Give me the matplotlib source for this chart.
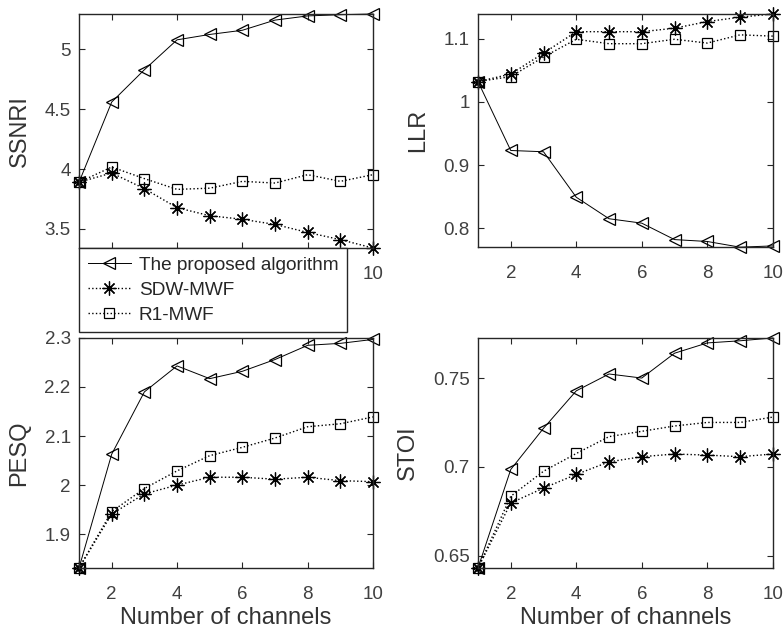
import matplotlib
matplotlib.use('Agg')
import matplotlib.pyplot as plt
from matplotlib.ticker import FormatStrFormatter

plt.rcParams['font.family'] = ['Liberation Sans', 'DejaVu Sans']

channels = [1, 2, 3, 4, 5, 6, 7, 8, 9, 10]

# SSNRI
ssnri_prop = [3.89, 4.56, 4.83, 5.08, 5.125, 5.16, 5.245, 5.28, 5.29, 5.296]
ssnri_sdw = [3.89, 3.967, 3.836, 3.677, 3.61, 3.58, 3.537, 3.47, 3.41, 3.34]
ssnri_r1 = [3.89, 4.017, 3.92, 3.83, 3.84, 3.897, 3.883, 3.953, 3.897, 3.953]

# LLR
llr_prop = [1.032, 0.923, 0.921, 0.849, 0.815, 0.808, 0.782, 0.779, 0.770, 0.772]
llr_sdw = [1.032, 1.044, 1.077, 1.111, 1.111, 1.111, 1.1165, 1.127, 1.134, 1.139]
llr_r1 = [1.032, 1.040, 1.071, 1.099, 1.092, 1.092, 1.099, 1.093, 1.106, 1.104]

# PESQ
pesq_prop = [1.831, 2.063, 2.190, 2.243, 2.217, 2.232, 2.256, 2.285, 2.289, 2.297]
pesq_sdw = [1.831, 1.941, 1.982, 2.0, 2.016, 2.016, 2.012, 2.016, 2.009, 2.007]
pesq_r1 = [1.831, 1.946, 1.993, 2.029, 2.060, 2.077, 2.096, 2.119, 2.125, 2.139]

# STOI
stoi_prop = [0.643, 0.6985, 0.7217, 0.7428, 0.7523, 0.750, 0.764, 0.7698, 0.771, 0.7726]
stoi_sdw = [0.643, 0.6796, 0.688, 0.6957, 0.7028, 0.7057, 0.7072, 0.7066, 0.7057, 0.7072]
stoi_r1 = [0.643, 0.6834, 0.6975, 0.7075, 0.717, 0.720, 0.723, 0.725, 0.725, 0.728]

labels = ['The proposed algorithm', 'SDW-MWF', 'R1-MWF']
xticks = [2, 4, 6, 8, 10]

panels = [
    ('SSNRI', ssnri_prop, ssnri_sdw, ssnri_r1, [3.5, 4, 4.5, 5], False),
    ('LLR', llr_prop, llr_sdw, llr_r1, [0.8, 0.9, 1, 1.1], False),
    ('PESQ', pesq_prop, pesq_sdw, pesq_r1, [1.9, 2, 2.1, 2.2, 2.3], True),
    ('STOI', stoi_prop, stoi_sdw, stoi_r1, [0.65, 0.7, 0.75], True),
]

# axes rectangles in figure fractions (784 x 642 px)
rects = [
    [0.1008, 0.6137, 0.375, 0.3645],
    [0.6097, 0.6150, 0.376, 0.3632],
    [0.1008, 0.1153, 0.375, 0.3583],
    [0.6097, 0.1153, 0.376, 0.3583],
]

fig = plt.figure(figsize=(7.84, 6.42), dpi=100)
axes = []
for rect, (name, prop, sdw, r1, yt, xl) in zip(rects, panels):
    ax = fig.add_axes(rect)
    ax.plot(channels, prop, '-', color='k', lw=0.7, marker='<', ms=9,
            mfc='none', mec='k', mew=0.9, label=labels[0], clip_on=False)
    ax.plot(channels, sdw, ':', color='k', lw=1.0, marker=(8, 2, 0), ms=10,
            mec='k', mew=0.9, label=labels[1], clip_on=False)
    ax.plot(channels, r1, ':', color='k', lw=1.0, marker='s', ms=7,
            mfc='none', mec='k', mew=0.9, label=labels[2], clip_on=False)
    allv = prop + sdw + r1
    ax.set_xlim(1, 10)
    ax.set_ylim(min(allv), max(allv))
    ax.set_xticks(xticks)
    ax.set_yticks(yt)
    ax.yaxis.set_major_formatter(FormatStrFormatter('%g'))
    ax.tick_params(direction='in', top=True, right=True, length=4,
                   width=0.8, colors='#262626', labelsize=13.5,
                   labelcolor='#404040')
    ax.tick_params(axis='x', pad=13)
    ax.tick_params(axis='y', pad=6)
    for s in ax.spines.values():
        s.set_color('#262626')
        s.set_linewidth(1.0)
    ax.set_ylabel(name, fontsize=17, color='#333333', labelpad=10)
    if xl:
        ax.set_xlabel('Number of channels', fontsize=17, color='#333333',
                      labelpad=3)
    axes.append(ax)

# the legend hides the lower tick labels of the first panel, only "10" shows
axes[0].set_xticklabels(['', '', '', '', '10'])

h, l = axes[0].get_legend_handles_labels()
leg = fig.legend(h, l, loc='upper left', bbox_to_anchor=(0.1008, 0.6137),
                 fontsize=13.7, fancybox=False, framealpha=1, edgecolor='#262626',
                 borderpad=0.45, labelspacing=0.4, handlelength=2.3,
                 handletextpad=0.4, borderaxespad=0)
leg.get_frame().set_linewidth(1.0)
for t in leg.get_texts():
    t.set_color('#262626')

plt.savefig('out.png', dpi=100)
